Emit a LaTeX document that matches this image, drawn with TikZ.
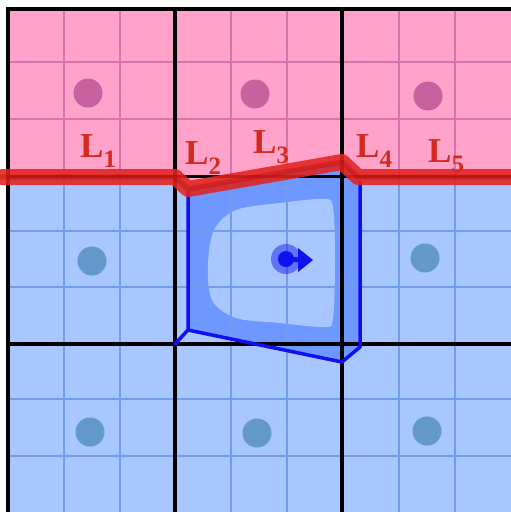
\documentclass[tikz,border=0pt]{standalone}
\usepackage{fontspec}
\setmainfont{Liberation Serif}
\definecolor{pinkbg}{HTML}{FFA3CB}
\definecolor{pinkline}{HTML}{DC72AC}
\definecolor{pinkdot}{HTML}{C7629F}
\definecolor{bluebg}{HTML}{A8C6FF}
\definecolor{blueline}{HTML}{739DE6}
\definecolor{bluedot}{HTML}{6399C8}
\definecolor{cellfill}{HTML}{6E97FF}
\definecolor{outline}{HTML}{1010F0}
\definecolor{redline}{HTML}{E2241E}
\definecolor{labred}{HTML}{D42A1E}
\newcommand\lsubsc[1]{\raisebox{-10pt}{\fontsize{25}{25}\selectfont #1}}
\begin{document}
\begin{tikzpicture}[x=1pt,y=-1pt,
  subline/.style={line width=2pt},
  gridline/.style={line width=3.6pt,black},
  pdot/.style={circle,fill=pinkdot,minimum size=29pt,inner sep=0pt},
  bdot/.style={circle,fill=bluedot,minimum size=29pt,inner sep=0pt},
  lab/.style={anchor=base west,inner sep=0pt,text=labred,font=\fontsize{35}{35}\selectfont\bfseries}]
\useasboundingbox (0,0) rectangle (511,512);
\fill[white] (0,0) rectangle (511,512);
% regions
\def\pinkpath{(8,9) -- (511,9) -- (511,177) -- (358,177) -- (342,162) -- (188,189) -- (175,177) -- (8,177) -- cycle}
\def\bluepath{(8,177) -- (175,177) -- (188,189) -- (342,162) -- (358,177) -- (511,177) -- (511,512) -- (8,512) -- cycle}
\fill[pinkbg] \pinkpath;
\fill[bluebg] \bluepath;
% deformed cell
\fill[cellfill] (188,189) -- (342,162) -- (360,177) -- (360,347) -- (342,362) -- (188,330) -- cycle;
\fill[bluebg] plot[smooth cycle,tension=0.55] coordinates {(214,230) (236,210) (280,203) (323,199) (333,207) (335,260) (333,318) (325,327) (280,323) (236,318) (212,300) (208,265)};
% sub grid
\begin{scope}
\clip \pinkpath;
\foreach \v in {64,120,231,287,399,455} \draw[subline,pinkline] (\v,0) -- (\v,512);
\foreach \h in {62,119} \draw[subline,pinkline] (0,\h) -- (511,\h);
\end{scope}
\begin{scope}
\clip \bluepath;
\foreach \v in {64,120,231,287,399,455} \draw[subline,blueline] (\v,0) -- (\v,512);
\foreach \h in {231,287,399,456} \draw[subline,blueline] (0,\h) -- (511,\h);
\end{scope}
% main grid
\draw[gridline] (8,9) -- (511,9);
\draw[gridline] (8,7.2) -- (8,512);
\draw[gridline] (175,9) -- (175,512);
\draw[gridline] (342,9) -- (342,512);
\draw[gridline] (8,176.5) -- (511,176.5);
\draw[gridline] (8,344) -- (511,344);
% dots
\node[pdot] (p1) at (88,93) {};
\node[pdot] (p2) at (255,94) {};
\node[pdot] (p3) at (428,96) {};
\node[bdot] (b1) at (92,261) {};
\node[bdot] (b3) at (425,258) {};
\node[bdot] (c1) at (90,432) {};
\node[bdot] (c2) at (257,433) {};
\node[bdot] (c3) at (427,431) {};
% outline of deformed cell
\draw[outline,line width=3.5pt,line join=round,line cap=round] (188,192) -- (188,330) -- (175,344);
\draw[outline,line width=3.5pt,line join=round,line cap=round] (188,330) -- (342,362) -- (360,347) -- (360,182);
% interface line
\draw[redline,opacity=0.88,line width=16pt,line cap=round,line join=round] (2,177) -- (175,177) -- (188,189) -- (342,162) -- (358,177) -- (511,177);
\draw[red!70!black,opacity=0.3,line width=5pt,line join=round] (0,177) -- (175,177) -- (188,189) -- (342,162) -- (358,177) -- (511,177);
% centre point with arrow
\fill[outline,opacity=0.45] (286,259) circle (15);
\node[circle,fill=outline,minimum size=16pt,inner sep=0pt] (cp) at (286,259) {};
\coordinate (tip) at (313,260);
\draw[outline,line width=5pt] (cp.center) -- (300,260);
\fill[outline] (298,248) -- (tip) -- (298,272) -- cycle;
% labels
\node[lab] (l1) at (80,157) {L\lsubsc{1}};
\node[lab] (l2) at (185,164) {L\lsubsc{2}};
\node[lab] (l3) at (253,153) {L\lsubsc{3}};
\node[lab] (l4) at (356,157) {L\lsubsc{4}};
\node[lab] (l5) at (428,162) {L\lsubsc{5}};
\end{tikzpicture}
\end{document}
